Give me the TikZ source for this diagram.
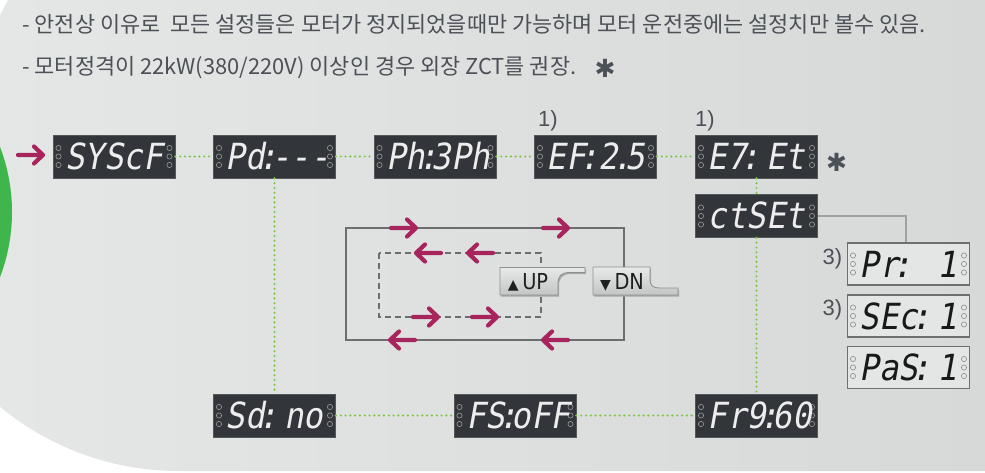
\documentclass[tikz,border=0pt]{standalone}
\usepackage{fontspec}
\newfontfamily\krfont{Noto Sans CJK KR}
\newfontfamily\segfont[FakeSlant=0.18,FakeStretch=0.9]{DejaVu Sans Mono}
\newfontfamily\labfont{Liberation Sans}
\newfontfamily\symfont{DejaVu Sans}
\newfontfamily\btnfont[FakeStretch=0.88]{DejaVu Sans}
\usetikzlibrary{calc}
\definecolor{bgL}{HTML}{E5E7E6}
\definecolor{bgR}{HTML}{D7D9D9}
\definecolor{grn}{HTML}{3FB54B}
\definecolor{dotg}{HTML}{80C447}
\definecolor{mag}{HTML}{A8245C}
\definecolor{dispfill}{HTML}{323539}
\definecolor{dispedge}{HTML}{55585B}
\definecolor{segtext}{HTML}{EDEDED}
\definecolor{ledd}{HTML}{9A9C9E}
\definecolor{ledl}{HTML}{8A8C8C}
\definecolor{lboxfill}{HTML}{E4E6E5}
\definecolor{lboxedge}{HTML}{6E7070}
\definecolor{rectg}{HTML}{6B6D6E}
\definecolor{hdrtext}{HTML}{4C5157}
\definecolor{linkg}{HTML}{A0A2A2}
\definecolor{btnT}{HTML}{E8EAE9}
\definecolor{btnB}{HTML}{C3C5C5}
\definecolor{btnE}{HTML}{8E9090}
\newcommand\segcolon{\kern-6.5pt:\kern-6.5pt}
\newcommand\segdot{\kern-6.5pt.\kern-6.5pt}
\tikzset{
  leds/.style={path picture={
    \foreach \dy in {-8.5,0,8.5}{
      \draw[#1,line width=0.6pt]
        ([xshift=5.5pt,yshift=\dy pt]path picture bounding box.west) circle[radius=2.6pt]
        ([xshift=-5.5pt,yshift=\dy pt]path picture bounding box.east) circle[radius=2.6pt];
    }}},
  dispbase/.style={rectangle, inner sep=0pt, minimum width=122pt, minimum height=43pt,
    text height=26pt, text depth=0pt, font=\segfont\fontsize{36}{36}\selectfont},
  disp/.style={dispbase, fill=dispfill, draw=dispedge, line width=0.8pt, text=segtext, leds=ledd},
  lbox/.style={dispbase, minimum height=42pt, fill=lboxfill, draw=lboxedge, line width=1.1pt, text=black!90, leds=ledl},
  gdot/.style={draw=dotg, line width=2.4pt, line cap=round, dash pattern=on 0pt off 4.8pt},
  glink/.style={draw=linkg, line width=2pt},
  marr/.style={draw=mag, line width=4.2pt, line cap=round, line join=round},
  rarr/.pic={\draw[marr] (-12.5,0) -- (12.5,0) (3.5,8.5) -- (12.5,0) -- (3.5,-8.5);},
  larr/.pic={\draw[marr] (12.5,0) -- (-12.5,0) (-3.5,8.5) -- (-12.5,0) -- (-3.5,-8.5);},
  hdr/.style={inner sep=0pt, anchor=base west, text=hdrtext, font=\krfont\fontsize{21.9}{22}\selectfont},
  note/.style={inner sep=0pt, text=hdrtext, font=\labfont\fontsize{22}{22}\selectfont},
  star/.style={inner sep=0pt, text=hdrtext, font=\symfont\fontsize{25}{25}\selectfont},
  btn/.style={draw=btnE, line width=0.8pt, top color=btnT, bottom color=btnB},
  btnshadow/.style={fill=black!35},
  btntext/.style={inner sep=0pt, text=black!88, font=\btnfont\fontsize{22}{22}\selectfont},
}
\begin{document}
\begin{tikzpicture}[x=1pt,y=1pt]
\useasboundingbox (0,0) rectangle (985,-473);
\fill[white] (0,0) rectangle (985,-473);
% background
\shade[left color=bgL, middle color=bgL, right color=bgR]
  (8,0) -- (985,0) -- (985,-471) -- (178.5,-471)
  arc[start angle=270,end angle=230.4,radius=280] -- (0,-15) -- cycle;
\begin{scope}
  \clip (0,0) rectangle (985,-473);
  \fill[grn] (-170,-212) circle[radius=182];
\end{scope}
% header
\node[hdr] (h1) at (22,-32.6) {- 안전상 이유로\ \ 모든 설정들은 모터가 정지되었을때만 가능하며 모터 운전중에는 설정치만 볼수 있음.};
\node[hdr] (h2) at (22,-74.6) {- 모터정격이 22kW(380/220V) 이상인 경우 외장 ZCT를 권장.};
\node[star] (star2) at (605,-68) {✱};
% displays
\node[disp] (sys) at (114,-156.5) {\makebox[98pt][l]{SYScF}};
\node[disp] (pd) at (274.5,-156.5) {\makebox[98pt][l]{Pd\segcolon---}};
\node[disp] (ph) at (435,-156.5) {\makebox[98pt][l]{Ph\segcolon 3Ph}};
\node[disp] (ef) at (595.5,-156.5) {\makebox[98pt][l]{EF\segcolon\hfill 2\segdot 5}};
\node[disp] (e7) at (756.5,-156.5) {\makebox[98pt][l]{E7\segcolon\hfill Et}};
\node[disp] (ct) at (756.5,-216) {\makebox[98pt][l]{ctSEt}};
\node[lbox] (pr) at (908.5,-264) {\makebox[98pt][l]{Pr\segcolon\hfill 1}};
\node[lbox] (sec) at (908.5,-316) {\makebox[98pt][l]{SEc\segcolon\hfill 1}};
\node[lbox] (pas) at (908.5,-367.5) {\makebox[98pt][l]{PaS\segcolon\hfill 1}};
\node[disp] (sd) at (274.5,-415.5) {\makebox[98pt][l]{Sd\segcolon\hfill no}};
\node[disp] (fs) at (515,-415.5) {\makebox[98pt][l]{FS\segcolon oFF}};
\node[disp] (fr) at (756.5,-415.5) {\makebox[98pt][l]{Fr\hfill 9\segcolon 60}};
% labels
\node[note] (n1) at (548,-121) {1)};
\node[note] (n2) at (705,-121) {1)};
\node[note] (n3) at (832.5,-258.5) {3)};
\node[note] (n4) at (832.5,-309.5) {3)};
\node[star] (star1) at (836.5,-162.5) {✱};
% connectors
\draw[gdot] (sys) -- (pd);
\draw[gdot] (pd) -- (ph);
\draw[gdot] (ph) -- (ef);
\draw[gdot] (ef) -- (e7);
\draw[gdot] (pd) -- (sd);
\draw[gdot] (e7) -- (ct);
\draw[gdot] (ct) -- (fr);
\draw[gdot] (sd) -- (fs);
\draw[gdot] (fs) -- (fr);
\draw[glink] (ct.east) -| ([xshift=-2.5pt]pr.north);
% entry arrow
\pic at (30.5,-155) {rarr};
% loop diagram
\draw[rectg, line width=2.5pt] (346,-228) rectangle (624,-340);
\draw[rectg, line width=2.2pt, dash pattern=on 6pt off 4pt] (379,-253) rectangle (541,-317);
\pic at (403.5,-228) {rarr};
\pic at (555.5,-228) {rarr};
\pic at (428.5,-253) {larr};
\pic at (480.5,-253) {larr};
\pic at (425.5,-317) {rarr};
\pic at (484.5,-317) {rarr};
\pic at (402.5,-340) {larr};
\pic at (555.5,-340) {larr};
% UP button
\fill[btnshadow] (501,-269) -- (586,-269) -- (586,-274) -- (571,-274)
  .. controls (562,-274) and (559,-278) .. (559,-286) -- (559,-296.5) -- (501,-296.5) -- cycle;
\draw[btn] (500,-267.5) -- (585,-267.5) -- (585,-272.5) -- (570,-272.5)
  .. controls (561,-272.5) and (558,-276) .. (558,-284) -- (558,-295) -- (500,-295) -- cycle;
\node[btntext] (up) at (528,-282) {{\symfont\fontsize{14}{14}\selectfont ▲}\,UP};
% DN button
\fill[btnshadow] (594,-268.5) -- (651,-268.5) -- (651,-280)
  .. controls (651,-287) and (654,-289.5) .. (661,-289.5) -- (679,-289.5) -- (679,-296.5) -- (594,-296.5) -- cycle;
\draw[btn] (593,-267) -- (650,-267) -- (650,-279)
  .. controls (650,-286) and (653,-288) .. (660,-288) -- (678,-288) -- (678,-295) -- (593,-295) -- cycle;
\node[btntext] (dn) at (622,-282) {{\symfont\fontsize{14}{14}\selectfont ▼}\,DN};
\end{tikzpicture}
\end{document}
